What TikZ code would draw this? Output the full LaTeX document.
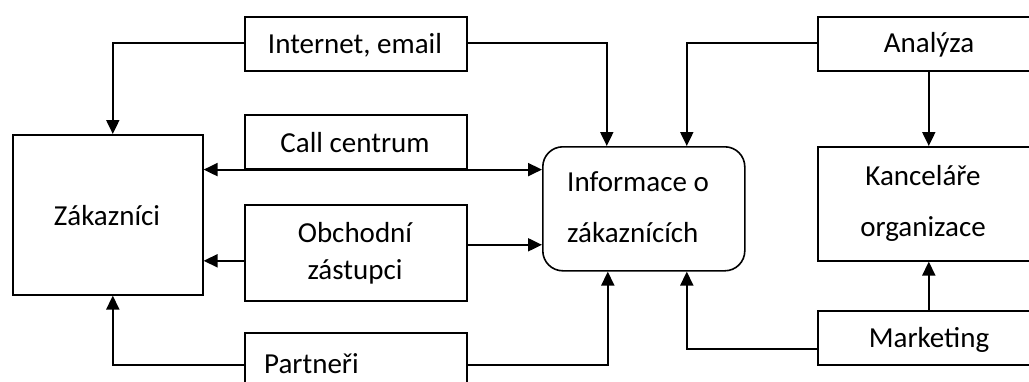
\documentclass[tikz,border=0pt]{standalone}
\usepackage{fontspec}
\setmainfont{Carlito}
\usetikzlibrary{arrows.meta}
\begin{document}
\begin{tikzpicture}[x=1pt,y=-1pt,
  every node/.style={font=\fontsize{29}{37}\selectfont, inner sep=0pt, align=center},
  unit/.style={draw, line width=1.6pt, anchor=north west},
  link/.style={line width=2pt, -{Triangle[length=14pt,width=13pt]}},
  link2/.style={line width=2pt, {Triangle[length=14pt,width=13pt]}-{Triangle[length=14pt,width=13pt]}},
  txt/.style={draw=none}]
\useasboundingbox (0,0) rectangle (1029,381);
\clip (0,0) rectangle (1029,381);
\fill[white] (0,0) rectangle (1029,381);

% customer side
\node[unit, minimum width=190pt, minimum height=160pt] (zak) at (12,134) {};
\node[txt] at (107,216) {Zákazníci};

% channels
\node[unit, minimum width=222pt, minimum height=54pt] (inet) at (244,16) {};
\node[txt] at (355,45) {Internet, email};
\node[unit, minimum width=222pt, minimum height=54pt] (cc) at (244,114) {};
\node[txt] at (355,143) {Call centrum};
\node[unit, minimum width=222pt, minimum height=96pt] (obch) at (244,204) {};
\node[txt] at (355,253) {Obchodní\\zástupci};
\node[unit, minimum width=222pt, minimum height=80pt] (part) at (244,332) {};
\node[txt, anchor=west] at (264,364) {Partneři};

% customer information
\node[unit, rounded corners=20pt, minimum width=202pt, minimum height=124pt] (info) at (542,146) {};
\node[txt, anchor=west, align=left] at (567,207) {Informace o\\[14pt]zákaznících};

% organisation side
\node[unit, minimum width=240pt, minimum height=54pt] (ana) at (817,16) {};
\node[txt] at (929,45) {Analýza};
\node[unit, minimum width=240pt, minimum height=114pt] (kanc) at (817,146) {};
\node[txt] at (923,203) {Kanceláře\\[14pt]organizace};
\node[unit, minimum width=240pt, minimum height=54pt] (mkt) at (817,310) {};
\node[txt] at (929,340) {Marketing};

% connection points
\coordinate (zakA) at ([xshift=5pt]zak.north);
\coordinate (zakB) at ([xshift=5pt]zak.south);
\coordinate (infoA) at ([xshift=-37pt]info.north);
\coordinate (infoB) at ([xshift=43pt]info.north);
\coordinate (infoC) at ([xshift=-36pt]info.south);
\coordinate (infoD) at ([xshift=43pt]info.south);
\coordinate (anaK) at ([xshift=-9pt]ana.south);
\coordinate (mktK) at ([xshift=-9pt]mkt.north);
\coordinate (obchL) at ([yshift=-8pt]obch.west);
\coordinate (obchR) at ([yshift=8pt]obch.east);
\coordinate (partL) at ([yshift=8pt]part.west);
\coordinate (partR) at ([yshift=8pt]part.east);

% connectors
\draw[link] ([yshift=1pt]inet.west) -| (zakA);
\draw[link] ([yshift=1pt]inet.east) -| (infoA);
\draw[link2] (zak.east |- cc.south) -- (info.west |- cc.south);
\draw[link] (obchL) -- (zak.east |- obchL);
\draw[link] (obchR) -- (info.west |- obchR);
\draw[link] (partL) -| (zakB);
\draw[link] (partR) -| (infoC);
\draw[link] ([yshift=1pt]ana.west) -| (infoB);
\draw[link] (anaK) -- (kanc.north -| anaK);
\draw[link] ([yshift=-11pt]mkt.west) -| (infoD);
\draw[link] (mktK) -- (kanc.south -| mktK);
\end{tikzpicture}
\end{document}
